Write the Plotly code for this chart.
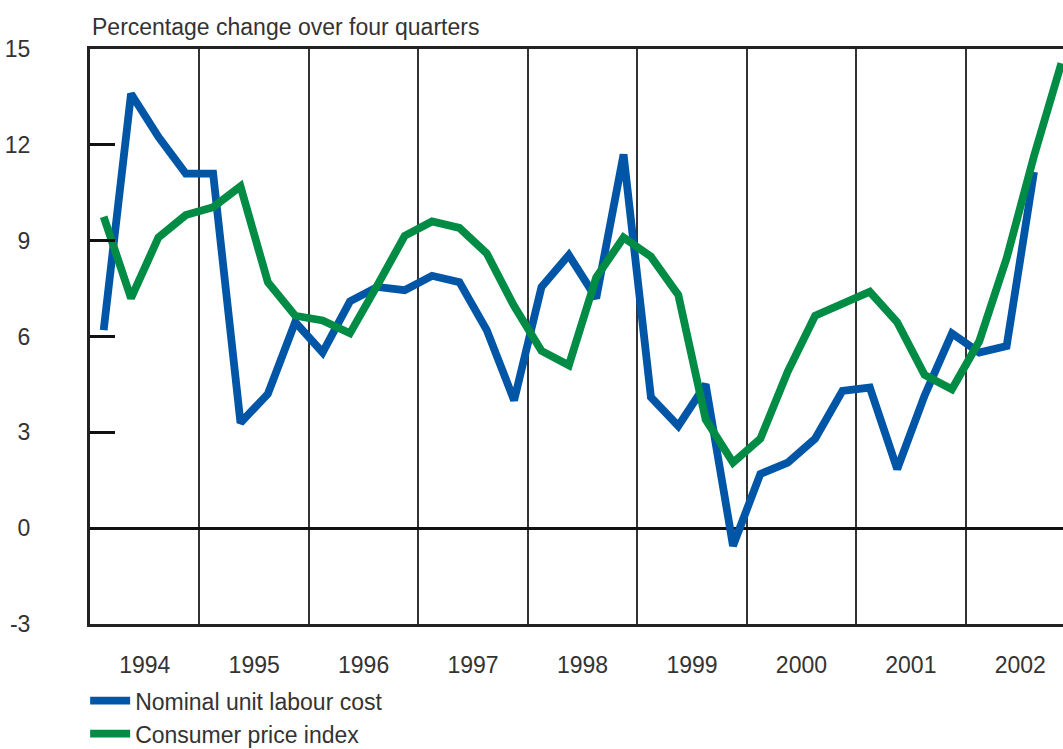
import plotly.graph_objects as go

years = [1994, 1995, 1996, 1997, 1998, 1999, 2000, 2001, 2002]
quarters = [1, 2, 3, 4]

# Nominal unit labour cost, % change over four quarters (1994Q1 .. 2002Q4)
nulc = [6.2, 13.6, 12.25, 11.1,
        11.1, 3.3, 4.2, 6.45,
        5.5, 7.1, 7.55, 7.45,
        7.9, 7.7, 6.2, 4.0,
        7.55, 8.55, 7.2, 11.7,
        4.1, 3.2, 4.5, -0.55,
        1.7, 2.05, 2.8, 4.3,
        4.4, 1.85, 4.15, 6.1,
        5.5, 5.7, 11.15, None]

# Consumer price index, % change over four quarters
cpi = [9.75, 7.2, 9.1, 9.8,
       10.05, 10.7, 7.7, 6.65,
       6.5, 6.1, 7.6, 9.15,
       9.6, 9.4, 8.6, 6.95,
       5.55, 5.1, 7.85, 9.1,
       8.5, 7.3, 3.4, 2.05,
       2.8, 4.9, 6.65, 7.0,
       7.4, 6.45, 4.8, 4.35,
       5.85, 8.45, 11.65, 14.55]

y_ticks = [-3, 0, 3, 6, 9, 12, 15]
year_labels = [str(y) for y in years]

# quarter positions on a continuous year scale (mid-quarter)
xq = [y + (q - 0.5) / 4 for y in years for q in quarters]

BLUE = "#0056a6"
GREEN = "#008c44"
FONT = "Liberation Sans, Arial, sans-serif"
TXT = "#333333"

fig = go.Figure()
fig.add_trace(go.Scatter(x=xq, y=nulc, mode="lines", name="Nominal unit labour cost",
                         line=dict(color=BLUE, width=7.8)))
fig.add_trace(go.Scatter(x=xq, y=cpi, mode="lines", name="Consumer price index",
                         line=dict(color=GREEN, width=7.8)))

fig.update_layout(
    width=1063, height=749,
    margin=dict(l=90, r=0, t=49, b=125, autoexpand=False),
    plot_bgcolor="white", paper_bgcolor="white",
    font=dict(family=FONT, size=23, color=TXT),
    showlegend=True,
    legend=dict(orientation="v", x=-0.005, xanchor="left", y=-0.096, yanchor="top",
                font=dict(size=23, color=TXT), itemwidth=40,
                tracegroupgap=0, bgcolor="rgba(0,0,0,0)"),
    annotations=[dict(text="Percentage change over four quarters", xref="paper", yref="paper",
                      x=0, xanchor="left", y=1.038, yanchor="middle", showarrow=False,
                      font=dict(size=23, color=TXT))],
)

fig.update_xaxes(
    range=[years[0], years[0] + 35.56 / 4], automargin=False,
    tickmode="array", tickvals=[y + 0.5 for y in years], ticktext=year_labels,
    ticks="", showgrid=False, zeroline=False,
    showline=True, linecolor="#222", linewidth=3, mirror=True,
    tickfont=dict(size=23, color=TXT), ticklabelstandoff=18,
    minor=dict(tickmode="array", tickvals=years[1:], showgrid=True,
               gridcolor="#333", gridwidth=1.5, ticks=""),
)
fig.update_yaxes(
    range=[-3, 15], automargin=False, tickmode="array", tickvals=y_ticks,
    ticktext=[str(v) for v in y_ticks],
    ticks="inside", ticklen=25, tickwidth=2.5, tickcolor="#111",
    showgrid=False, zeroline=True, zerolinecolor="#111", zerolinewidth=3,
    showline=True, linecolor="#222", linewidth=3, mirror=False,
    tickfont=dict(size=23, color=TXT), ticklabelstandoff=52,
)

fig.write_html(
    "out.html",
    config={"displayModeBar": False},
    post_script="document.body.style.margin='0px';"
                "document.documentElement.style.overflow='hidden';",
)
